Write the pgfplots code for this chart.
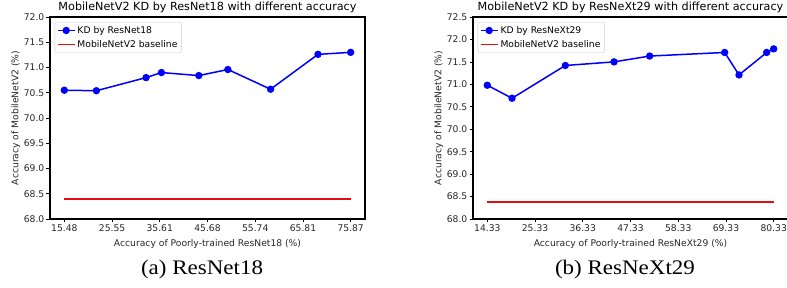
\documentclass[border=0pt]{standalone}
\usepackage{fontspec}
\setmainfont{DejaVu Sans}
\newfontfamily\capfont{Liberation Serif}
\usepackage{pgfplots}
\pgfplotsset{compat=1.18}
\definecolor{mplblue}{RGB}{0,0,255}
\definecolor{mplred}{RGB}{225,15,15}
\begin{document}
\begin{tikzpicture}
\useasboundingbox (0pt,0pt) rectangle (787pt,288pt);
\pgfplotsset{
 myax/.style={
  scale only axis, width=315pt, height=202pt,
  axis line style={line width=1.1pt},
  tick align=outside, xtick pos=bottom, ytick pos=left,
  major tick length=3.5pt,
  tick style={black, line width=0.6pt},
  ticklabel style={font=\fontsize{9.2}{10}\selectfont, text=black!85, inner sep=2pt},
  label style={font=\fontsize{9.2}{10}\selectfont, text=black!85},
  xlabel style={yshift=-2pt},
  ylabel style={yshift=-2pt},
  title style={font=\fontsize{11.2}{12}\selectfont, at={(0.5,1)}, anchor=base, inner sep=0pt, yshift=0pt},
  /pgf/number format/assume math mode=true,
  yticklabel style={/pgf/number format/.cd, fixed, fixed zerofill, precision=1},
  legend style={at={(0.015,0.975)}, anchor=north west, draw=black!20, rounded corners=2pt,
    font=\fontsize{9.2}{10}\selectfont, inner sep=2pt, row sep=1.5pt},
  legend cell align=left,
  anchor=south west,
  ytick distance=0.5,
 },
 kd/.style={mplblue, line width=1.5pt, mark=*, mark size=2.9pt, mark options={fill=mplblue, draw=mplblue}},
 base/.style={mplred, line width=1.5pt, no marks},
}
\begin{axis}[myax, at={(50pt,69pt)},
  xmin=12.46, xmax=78.89, ymin=68, ymax=72,
  xtick={15.48,25.55,35.61,45.68,55.74,65.81,75.87},
  xticklabels={15.48,25.55,35.61,45.68,55.74,65.81,75.87},
  title={MobileNetV2 KD by ResNet18 with different accuracy},
  xlabel={Accuracy of Poorly-trained ResNet18 (\%)},
  ylabel={Accuracy of MobileNetV2 (\%)}]
\addplot[kd] coordinates {(15.48,70.55) (22.24,70.54) (32.72,70.80) (35.96,70.90) (43.84,70.84) (49.97,70.96) (58.98,70.57) (68.97,71.26) (75.87,71.30)};
\addlegendentry{KD by ResNet18}
\addplot[base] coordinates {(15.48,68.4) (75.87,68.4)};
\addlegendentry{MobileNetV2 baseline}
\end{axis}
\begin{axis}[myax, at={(473pt,69pt)},
  xmin=11.03, xmax=83.63, ymin=68, ymax=72.5,
  xtick={14.33,25.33,36.33,47.33,58.33,69.33,80.33},
  xticklabels={14.33,25.33,36.33,47.33,58.33,69.33,80.33},
  title={MobileNetV2 KD by ResNeXt29 with different accuracy},
  xlabel={Accuracy of Poorly-trained ResNeXt29 (\%)},
  ylabel={Accuracy of MobileNetV2 (\%)}]
\addplot[kd] coordinates {(14.33,70.98) (20.02,70.69) (32.31,71.42) (43.53,71.50) (51.75,71.63) (69.03,71.71) (72.34,71.21) (78.72,71.71) (80.33,71.79)};
\addlegendentry{KD by ResNeXt29}
\addplot[base] coordinates {(14.33,68.38) (80.33,68.38)};
\addlegendentry{MobileNetV2 baseline}
\end{axis}
\node[font=\capfont\fontsize{23}{26}\selectfont, yscale=0.9] at (202pt,18pt) {(a) ResNet18};
\node[font=\capfont\fontsize{23}{26}\selectfont, yscale=0.9] at (625pt,18pt) {(b) ResNeXt29};
\end{tikzpicture}
\end{document}
